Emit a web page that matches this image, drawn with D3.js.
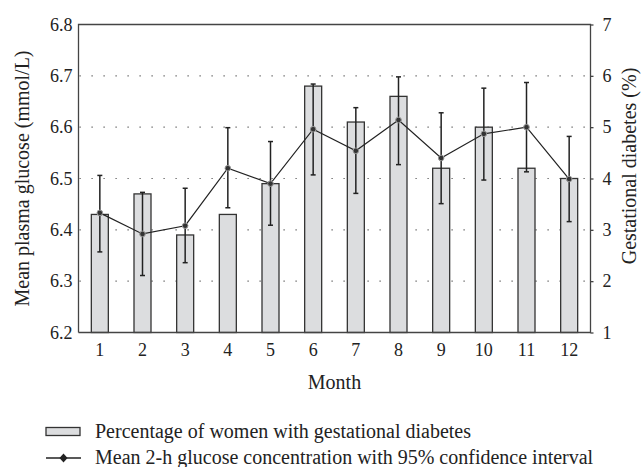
<!DOCTYPE html>
<html><head><meta charset="utf-8">
<script src="https://cdn.jsdelivr.net/npm/d3@7"></script>
<style>body{margin:0;background:#fff}svg{display:block}svg text{font-family:"Liberation Serif","DejaVu Serif",serif;fill:#222}</style>
</head><body><svg id="c" width="643" height="467"></svg>
<script>
const months = ["1","2","3","4","5","6","7","8","9","10","11","12"];
const gdmPercent = [3.3,3.7,2.9,3.3,3.9,5.8,5.1,5.6,4.2,5.0,4.2,4.0];
const glucoseMean = [6.433,6.392,6.408,6.52,6.49,6.596,6.554,6.614,6.540,6.587,6.600,6.499];
const glucoseUpper = [6.506,6.473,6.481,6.599,6.572,6.684,6.638,6.698,6.628,6.676,6.687,6.582];
const glucoseLower = [6.357,6.311,6.336,6.443,6.409,6.507,6.471,6.527,6.451,6.497,6.513,6.416];
const leftTicks = [6.2,6.3,6.4,6.5,6.6,6.7,6.8];
const rightTicks = [1,2,3,4,5,6,7];
const legendLabels = ["Percentage of women with gestational diabetes","Mean 2-h glucose concentration with 95% confidence interval"];

const svg = d3.select("#c");
const L=78.5, R=590.5, T=24.5, B=332.5;
const x = d3.scaleBand().domain(months).range([L,R]).padding(0);
const yL = d3.scaleLinear().domain([6.2,6.8]).range([B,T]);
const yR = d3.scaleLinear().domain([1,7]).range([B,T]);

// grid
svg.append("g").selectAll("line").data([6.3,6.4,6.5,6.6,6.7]).join("line")
  .attr("x1",L+1).attr("x2",R).attr("y1",d=>yL(d)).attr("y2",d=>yL(d))
  .attr("stroke","#555").attr("stroke-width",1.2).attr("stroke-dasharray","1.2,10.8");

// bars
const bw = 17;
svg.append("g").selectAll("rect").data(gdmPercent).join("rect")
  .attr("x",(d,i)=>x(months[i])+x.bandwidth()/2-bw/2)
  .attr("width",bw)
  .attr("y",d=>yR(d)).attr("height",d=>B-yR(d))
  .attr("fill","#dcdddf").attr("stroke","#333").attr("stroke-width",1.3);

// frame
svg.append("path").attr("d",`M${L},${B}V${T}H${R}V${B}H${L}`).attr("fill","none").attr("stroke","#444").attr("stroke-width",1.3);

// axes
const gl = svg.append("g").attr("transform",`translate(${L},0)`).call(d3.axisLeft(yL).tickValues(leftTicks).tickFormat(d3.format(".1f")).tickSize(0).tickPadding(6));
const gr = svg.append("g").attr("transform",`translate(${R},0)`).call(d3.axisRight(yR).tickValues(rightTicks).tickFormat(d3.format("d")).tickSize(3).tickPadding(9));
const gb = svg.append("g").attr("transform",`translate(0,${B})`).call(d3.axisBottom(x).tickSize(0).tickPadding(11));
[gl,gr,gb].forEach(g=>{g.select(".domain").remove();g.attr("font-family",null);g.selectAll("text").style("font-size","18px").attr("fill","#222");g.selectAll("line").attr("stroke","#444").attr("stroke-width",1.3);});

// error bars
const cx = i=>x(months[i])+x.bandwidth()/2;
const eb = svg.append("g").attr("stroke","#222").attr("stroke-width",1.5);
glucoseMean.forEach((m,i)=>{
  eb.append("line").attr("x1",cx(i)).attr("x2",cx(i)).attr("y1",yL(glucoseUpper[i])).attr("y2",yL(glucoseLower[i]));
  eb.append("line").attr("x1",cx(i)-2.5).attr("x2",cx(i)+2.5).attr("y1",yL(glucoseUpper[i])).attr("y2",yL(glucoseUpper[i]));
  eb.append("line").attr("x1",cx(i)-2.5).attr("x2",cx(i)+2.5).attr("y1",yL(glucoseLower[i])).attr("y2",yL(glucoseLower[i]));
});
// line
svg.append("path").datum(glucoseMean)
  .attr("d",d3.line().x((d,i)=>cx(i)).y(d=>yL(d)))
  .attr("fill","none").attr("stroke","#222").attr("stroke-width",1.2);
svg.append("g").selectAll("circle").data(glucoseMean).join("circle")
  .attr("cx",(d,i)=>cx(i)).attr("cy",d=>yL(d)).attr("r",2.8)
  .attr("fill","#333").attr("stroke","#999").attr("stroke-width",1);

// axis titles
svg.append("text").attr("transform",`translate(29,${(T+B)/2}) rotate(-90)`).attr("text-anchor","middle").style("font-size","20px").text("Mean plasma glucose (mmol/L)");
svg.append("text").attr("transform",`translate(636,166) rotate(-90)`).attr("text-anchor","middle").style("font-size","20px").text("Gestational diabetes (%)");
svg.append("text").attr("x",(L+R)/2).attr("y",389).attr("text-anchor","middle").style("font-size","20px").text("Month");

// legend
svg.append("rect").attr("x",46).attr("y",427.5).attr("width",34).attr("height",8).attr("fill","#dcdddf").attr("stroke","#333").attr("stroke-width",1.3);
svg.append("text").attr("x",95).attr("y",438).style("font-size","20px").text(legendLabels[0]);
svg.append("line").attr("x1",46).attr("x2",81).attr("y1",458).attr("y2",458).attr("stroke","#222").attr("stroke-width",1.3);
svg.append("path").attr("d","M63.5,453.5L67.5,458L63.5,462.5L59.5,458Z").attr("fill","#222");
svg.append("text").attr("x",95).attr("y",464).style("font-size","20px").text(legendLabels[1]);
</script></body></html>
